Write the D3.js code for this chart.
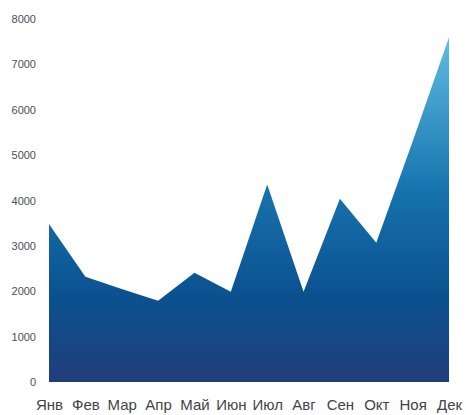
<!DOCTYPE html>
<html>
<head>
<meta charset="utf-8">
<script src="https://cdn.jsdelivr.net/npm/d3@7"></script>
<style>
  body { margin: 0; background: #fff; }
  svg { display: block; font-family: "Liberation Sans", Arial, sans-serif; }
</style>
</head>
<body>
<svg id="chart" width="466" height="415"></svg>
<script>
// data
var months = ["Янв", "Фев", "Мар", "Апр", "Май", "Июн", "Июл", "Авг", "Сен", "Окт", "Ноя", "Дек"];
var sales = [3480, 2320, 2050, 1790, 2410, 1990, 4350, 1990, 4040, 3070, 5300, 7600];
var yTicks = [0, 1000, 2000, 3000, 4000, 5000, 6000, 7000, 8000];

var svg = d3.select("#chart");
var margin = { top: 19, right: 17, bottom: 33, left: 49 };
var width = 466, height = 415;

var x = d3.scalePoint()
  .domain(months)
  .range([margin.left, width - margin.right]);

var y = d3.scaleLinear()
  .domain([0, 8000])
  .range([height - margin.bottom, margin.top]);

// gradient fill
var defs = svg.append("defs");
var grad = defs.append("linearGradient")
  .attr("id", "areaGrad")
  .attr("gradientUnits", "userSpaceOnUse")
  .attr("x1", 0).attr("x2", 0)
  .attr("y1", y(7600)).attr("y2", y(0));
grad.append("stop").attr("offset", "0%").attr("stop-color", "#5fbde4");
grad.append("stop").attr("offset", "45%").attr("stop-color", "#1672ac");
grad.append("stop").attr("offset", "75%").attr("stop-color", "#0b5190");
grad.append("stop").attr("offset", "100%").attr("stop-color", "#213e7a");

var area = d3.area()
  .x(function (d, i) { return x(months[i]); })
  .y0(y(0))
  .y1(function (d) { return y(d); });

svg.append("path")
  .datum(sales)
  .attr("d", area)
  .attr("fill", "url(#areaGrad)");

// y axis labels
var yAxis = svg.append("g")
  .attr("transform", "translate(" + (margin.left - 13) + ",0)")
  .call(d3.axisLeft(y).tickValues(yTicks).tickFormat(d3.format("d")).tickSize(0).tickPadding(0));
yAxis.select(".domain").remove();
yAxis.selectAll("text")
  .attr("font-size", "11px")
  .attr("fill", "#4a4f52")
  .attr("font-family", "Liberation Sans, Arial, sans-serif");

// x axis labels
var xAxis = svg.append("g")
  .attr("transform", "translate(0," + (y(0) + 17) + ")")
  .call(d3.axisBottom(x).tickSize(0).tickPadding(0));
xAxis.select(".domain").remove();
xAxis.selectAll("text")
  .attr("font-size", "15px")
  .attr("fill", "#3f4446")
  .attr("font-family", "Liberation Sans, Arial, sans-serif");
</script>
</body>
</html>
